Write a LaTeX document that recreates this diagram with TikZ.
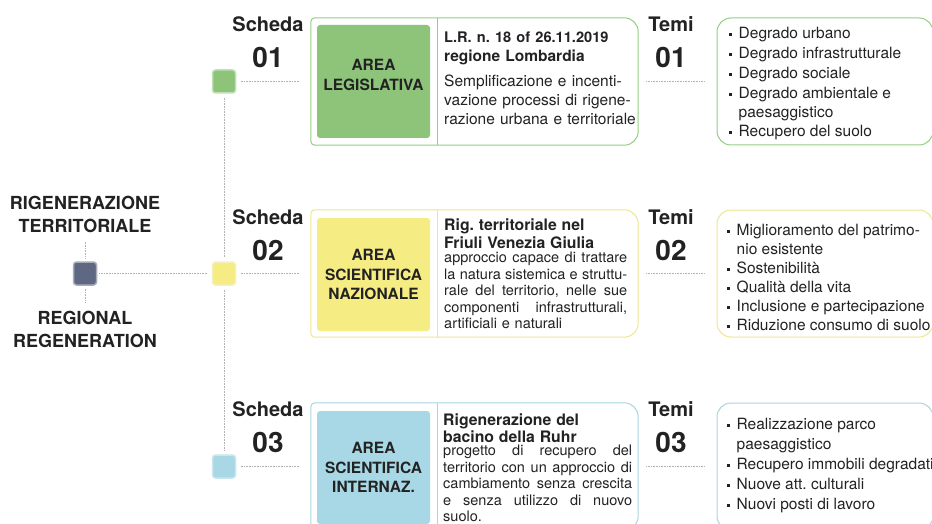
\documentclass[tikz,border=0pt]{standalone}
\usepackage{fontspec}
\setmainfont{TeX Gyre Heros}
\usetikzlibrary{positioning}
\definecolor{txt}{HTML}{222222}
\definecolor{grnF}{HTML}{8DC47A}
\definecolor{grnB}{HTML}{93CF82}
\definecolor{ylwF}{HTML}{F6EC84}
\definecolor{ylwB}{HTML}{F0E68E}
\definecolor{bluF}{HTML}{A8D8E5}
\definecolor{bluB}{HTML}{A9D6E2}
\definecolor{slate}{HTML}{5F6883}
\frenchspacing
% bullet and indent for the lists
\newcommand\itm{\makebox[10pt][l]{\rule[3pt]{3pt}{3pt}}}
\newcommand\cnt{\hspace*{10pt}}
% justified line of given width
\newcommand\jln[2]{{\spaceskip=0.28em plus 1fil\makebox[#1][s]{#2}}}

\begin{document}
\begin{tikzpicture}[x=1pt, y=-1pt,
    DOT/.style = {draw=gray!60, line width=0.7pt,
                  dash pattern=on 0.7pt off 0.9pt},
     SQ/.style = {minimum size=23pt, inner sep=0pt,
                  rounded corners=3pt, line width=1.5pt},
    BOX/.style = {minimum width=327pt, minimum height=127pt,
                  inner sep=0pt},
    ARE/.style = {minimum size=113pt, inner sep=0pt, rounded corners=3pt,
                  align=center, text=txt,
                  font=\fontsize{15.5}{19.5}\selectfont\bfseries},
    DSC/.style = {anchor=north west, inner sep=0pt, align=left, text=txt},
    TMB/.style = {minimum width=216pt, minimum height=127pt,
                  rounded corners=14pt, line width=1pt},
    LST/.style = {inner sep=0pt, align=left, text=txt, anchor=west,
                  font=\fontsize{15.5}{20}\selectfont},
    HDR/.style = {align=center, inner sep=0pt, text=txt,
                  font=\fontsize{20}{24}\selectfont\bfseries},
    TTL/.style = {align=center, inner sep=0pt, text=txt,
                  font=\fontsize{18}{23}\selectfont\bfseries},
     CG/.style = {fill=grnF, draw=grnB!60},   % Color Green
     CY/.style = {fill=ylwF, draw=ylwB!60},   % Color Yellow
     CB/.style = {fill=bluF, draw=bluB!60}    % Color Blue
                    ]
\useasboundingbox (0,0) rectangle (932,524);
\clip (0,0) rectangle (932,524);
\fill[white] (0,0) rectangle (932,524);
\newcommand\NUM{\fontsize{28}{36}\selectfont}
\newcommand\HB{\fontsize{15.8}{16.5}\selectfont\bfseries}
% left: title and root
\node[SQ, fill=slate, draw=slate!55] (root) at (85,273.5) {};
\node[TTL] (ttl) at (85,214.5) {RIGENERAZIONE\\TERRITORIALE};
\node[TTL] (sub) at (85,329.5) {REGIONAL\\REGENERATION};
% small squares
\node[SQ, CG] (s1) at (224,81.5) {};
\node[SQ, CY] (s2) at (224,273.5) {};
\node[SQ, CB] (s3) at (224,466.5) {};
% Scheda / Temi labels
\node[HDR] (sc1) at (268,42) {Scheda\\[12pt]\NUM 01};
\node[HDR] (sc2) at (268,235) {Scheda\\[12pt]\NUM 02};
\node[HDR] (sc3) at (268,427.5) {Scheda\\[12pt]\NUM 03};
\node[HDR] (tm1) at (671,42) {Temi\\[12pt]\NUM 01};
\node[HDR] (tm2) at (671,235) {Temi\\[12pt]\NUM 02};
\node[HDR] (tm3) at (671,427.5) {Temi\\[12pt]\NUM 03};
% main boxes
\node[BOX] (b1) at (474.5,81.5) {};
\node[BOX] (b2) at (474.5,273.5) {};
\node[BOX] (b3) at (474.5,466.5) {};
\draw[grnB, line width=1pt] (b1.south) [rounded corners=4pt] -| (b1.north west)
     -- (b1.north) [rounded corners=14pt] -| (b1.south east) -- cycle;
\draw[ylwB, line width=1pt] (b2.south) [rounded corners=4pt] -| (b2.north west)
     -- (b2.north) [rounded corners=14pt] -| (b2.south east) -- cycle;
\draw[bluB, line width=1pt] (b3.south) [rounded corners=4pt] -| (b3.north west)
     -- (b3.north) [rounded corners=14pt] -| (b3.south east) -- cycle;
\node[ARE, fill=grnF, text depth=14pt,
      font=\fontsize{15.5}{20}\selectfont\bfseries] (a1) at (373.5,81.5)  {AREA\\LEGISLATIVA};
\node[ARE, fill=ylwF] (a2) at (373.5,274.5) {AREA\\SCIENTIFICA\\NAZIONALE};
\node[ARE, fill=bluF] (a3) at (373.5,467.5) {AREA\\SCIENTIFICA\\INTERNAZ.};
% descriptions
\node[DSC, text width=192pt, font=\fontsize{15.5}{19}\selectfont] (t1) at (444,32)
  {{\fontsize{14.6}{19}\selectfont\bfseries L.R. n. 18 of 26.11.2019}\\
   \textbf{regione Lombardia}\\[6pt]
   Semplificazione e incenti-\\
   vazione processi di rigene-\\
   razione urbana e territoriale};
\node[DSC, text width=183pt, font=\fontsize{14.5}{16.5}\selectfont] (t2) at (444,219)
  {{\HB Rig. territoriale nel}\\[1.5pt]
   {\HB Friuli Venezia Giulia}\\[-2.5pt]
   \jln{183pt}{approccio capace di trattare}\\
   \jln{183pt}{la natura sistemica e struttu-}\\
   \jln{183pt}{rale del territorio, nelle sue}\\
   \jln{183pt}{componenti infrastrutturali,}\\
   artificiali e naturali};
\node[DSC, text width=189pt, font=\fontsize{14.5}{16.5}\selectfont] (t3) at (443,414)
  {{\HB Rigenerazione del}\\[0.5pt]
   {\HB bacino della Ruhr}\\[-3.5pt]
   \jln{189pt}{progetto di recupero del}\\
   \jln{189pt}{territorio con un approccio di}\\
   \jln{189pt}{cambiamento senza crescita}\\
   \jln{189pt}{e senza utilizzo di nuovo}\\
   suolo.};
\draw[grnB, line width=1pt] ([xshift=-7pt]t1.west |- b1.north) -- ([xshift=-7pt]t1.west |- b1.south);
\draw[ylwB, line width=1pt] ([xshift=-7pt]t2.west |- b2.north) -- ([xshift=-7pt]t2.west |- b2.south);
\draw[bluB, line width=1pt] ([xshift=-6pt]t3.west |- b3.north) -- ([xshift=-6pt]t3.west |- b3.south);
% theme boxes
\node[TMB, draw=grnB] (th1) at (825,81.5)  {};
\node[TMB, draw=ylwB] (th2) at (825,273.5) {};
\node[TMB, draw=bluB] (th3) at (825,466.5) {};
\node[LST, right=12pt of th1.west, yshift=-2.5pt] (l1)
  {\itm Degrado urbano\\
   \itm Degrado infrastrutturale\\
   \itm Degrado sociale\\
   \itm Degrado ambientale e\\[-1pt]
   \cnt paesaggistico\\[-1pt]
   \itm Recupero del suolo};
\node[LST, right=10pt of th2.west, yshift=-4pt,
      font=\fontsize{15.5}{19}\selectfont] (l2)
  {\itm Miglioramento del patrimo-\\
   \cnt nio esistente\\
   \itm Sostenibilità\\
   \itm Qualità della vita\\
   \itm Inclusione e partecipazione\\
   \itm Riduzione consumo di suolo};
\node[LST, right=10pt of th3.west, yshift=0.5pt] (l3)
  {\itm Realizzazione parco\\
   \cnt paesaggistico\\
   \itm Recupero immobili degradati\\
   \itm Nuove att. culturali\\
   \itm Nuovi posti di lavoro};
% connectors
\draw[DOT, shorten <=2pt, shorten >=4pt] (root) -- (s2);
\draw[DOT, shorten <=3pt, shorten >=9pt] (root) -- (ttl);
\draw[DOT, shorten <=3pt, shorten >=9pt] (root) -- (sub);
\draw[DOT, shorten <=4pt, shorten >=4pt] (s1) -- (s2);
\draw[DOT, shorten <=4pt, shorten >=4pt] (s2) -- (s3);
\draw[DOT, shorten <=4.5pt, shorten >=11pt] (s1) -- (b1);
\draw[DOT, shorten <=4.5pt, shorten >=11pt] (s2) -- (b2);
\draw[DOT, shorten <=4.5pt, shorten >=11pt] (s3) -- (b3);
\draw[DOT, shorten <=8pt, shorten >=12pt] (b1) -- (th1);
\draw[DOT, shorten <=8pt, shorten >=12pt] (b2) -- (th2);
\draw[DOT, shorten <=8pt, shorten >=12pt] (b3) -- (th3);
\end{tikzpicture}
\end{document}
